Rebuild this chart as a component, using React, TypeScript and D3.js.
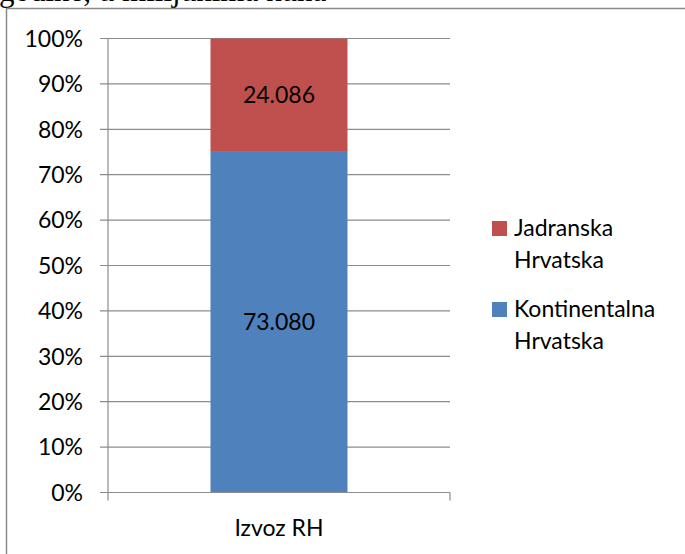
import React, { useRef, useEffect } from "react";
import * as d3 from "d3";

const categories = ["Izvoz RH"];
const seriesNames = ["Kontinentalna Hrvatska", "Jadranska Hrvatska"];
const kontinentalna = [73080];
const jadranska = [24086];
const yTicks = [0, 0.1, 0.2, 0.3, 0.4, 0.5, 0.6, 0.7, 0.8, 0.9, 1];
const colors = ["#4F81BD", "#C0504D"];
const headerText = "godine, u milijunima kuna";

export default function App() {
  const svgRef = useRef<SVGSVGElement>(null);

  useEffect(() => {
    const W = 685, H = 554;
    const svg = d3.select(svgRef.current).attr("width", W).attr("height", H);
    svg.selectAll("*").remove();

    const font = "Lato, 'Open Sans', sans-serif";
    const fmt = d3.formatLocale({ decimal: ",", thousands: ".", grouping: [3], currency: ["", " kn"] }).format(",d");

    // cut-off heading above the chart frame
    svg.append("text").attr("x", -1).attr("y", 1)
      .attr("font-family", "'Liberation Serif', 'Times New Roman', serif")
      .attr("font-size", 31).attr("fill", "#000").text(headerText);

    // chart frame
    svg.append("rect").attr("x", 6.5).attr("y", 8.5).attr("width", 700).attr("height", 560)
      .attr("fill", "#fff").attr("stroke", "#8a8a8a").attr("stroke-width", 1.5);

    const left = 108, right = 450, top = 38.5, bottom = 492.5;

    const rows = categories.map((c, i) => ({
      name: c,
      [seriesNames[0]]: kontinentalna[i],
      [seriesNames[1]]: jadranska[i],
    }));
    const normalized = rows.map((d: any) => {
      const total = seriesNames.reduce((a, k) => a + d[k], 0);
      const r: any = { name: d.name };
      seriesNames.forEach(k => { r[k] = d[k] / total; r["raw_" + k] = d[k]; });
      return r;
    });
    const stack = d3.stack<any>().keys(seriesNames)(normalized);

    const x = d3.scaleBand().domain(categories).range([left, right]).paddingInner(0.4).paddingOuter(0.3);
    const y = d3.scaleLinear().domain([0, 1]).range([bottom, top]);
    const color = d3.scaleOrdinal<string>().domain(seriesNames).range(colors);

    const g = svg.append("g");

    // gridlines + left ticks
    g.append("g").selectAll("line").data(yTicks).join("line")
      .attr("x1", left - 8).attr("x2", right)
      .attr("y1", d => y(d)).attr("y2", d => y(d))
      .attr("stroke", "#8c8c8c").attr("stroke-width", 1.2);

    g.append("g").selectAll("text").data(yTicks).join("text")
      .attr("x", 83).attr("y", d => y(d)).attr("dy", "0.36em")
      .attr("text-anchor", "end").attr("font-family", font).attr("font-size", 23).attr("fill", "#000")
      .text(d => d3.format(".0%")(d));

    // bars
    const bw = 137;
    const cx = (d: string) => (x(d) as number) + x.bandwidth() / 2;
    g.append("g").selectAll("g").data(stack).join("g")
      .attr("fill", d => color(d.key))
      .selectAll("rect").data(d => d).join("rect")
      .attr("x", d => cx(d.data.name) - bw / 2)
      .attr("width", bw)
      .attr("y", d => y(d[1]))
      .attr("height", d => y(d[0]) - y(d[1]));

    // bar labels
    stack.forEach(s => {
      g.append("g").selectAll("text").data(s).join("text")
        .attr("x", d => cx(d.data.name))
        .attr("y", d => (y(d[0]) + y(d[1])) / 2)
        .attr("dy", "0.36em").attr("text-anchor", "middle")
        .attr("font-family", font).attr("font-size", 23).attr("fill", "#000")
        .text(d => fmt(d.data["raw_" + s.key]));
    });

    // axes lines
    g.append("line").attr("x1", left).attr("x2", left).attr("y1", top).attr("y2", bottom + 8)
      .attr("stroke", "#8c8c8c").attr("stroke-width", 1.2);
    g.append("line").attr("x1", left).attr("x2", right).attr("y1", bottom).attr("y2", bottom)
      .attr("stroke", "#8c8c8c").attr("stroke-width", 1.2);
    g.append("line").attr("x1", right).attr("x2", right).attr("y1", bottom).attr("y2", bottom + 8)
      .attr("stroke", "#8c8c8c").attr("stroke-width", 1.2);

    // category label
    g.append("g").selectAll("text").data(categories).join("text")
      .attr("x", d => cx(d)).attr("y", 536).attr("text-anchor", "middle")
      .attr("font-family", font).attr("font-size", 23).attr("fill", "#000").text(d => d);

    // legend (reverse order, as in stacked charts)
    const legendItems = [...seriesNames].reverse();
    const lg = svg.append("g").attr("font-family", font).attr("font-size", 23);
    legendItems.forEach((k, i) => {
      const base = 236 + i * 81;
      lg.append("rect").attr("x", 492).attr("y", base - 15).attr("width", 15).attr("height", 15).attr("fill", color(k));
      const words = k.split(" ");
      const t = lg.append("text").attr("x", 514).attr("y", base).attr("fill", "#000");
      words.forEach((w, j) => {
        t.append("tspan").attr("x", 514).attr("dy", j === 0 ? 0 : 32).text(w);
      });
    });
  }, []);

  return (
    <div style={{ position: "absolute", left: 0, top: 0, width: 685, height: 554, overflow: "hidden", background: "#fff" }}>
      <svg ref={svgRef} style={{ display: "block" }} />
    </div>
  );
}
